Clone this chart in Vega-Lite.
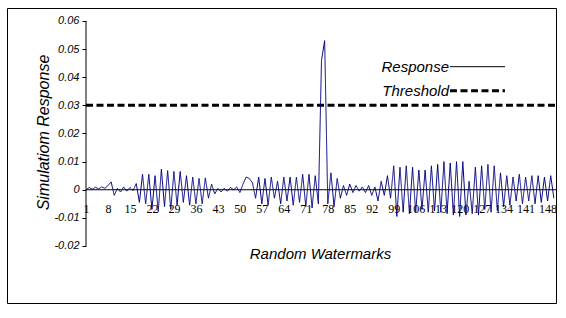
{
  "$schema": "https://vega.github.io/schema/vega-lite/v6.json",
  "width": 549,
  "height": 295,
  "autosize": {"type": "none"},
  "padding": {"left": 7, "top": 8, "right": 10, "bottom": 15},
  "background": "white",
  "config": {
    "view": {"stroke": "black", "strokeWidth": 1},
    "axis": {"grid": false},
    "axisX": {"offset": -113.25, "domain": false, "ticks": false, "tickSize": 0, "labelFont": "Liberation Serif", "labelFontSize": 12, "labelColor": "black", "labelPadding": 14, "labelOverlap": false, "labelFlush": false, "titleFont": "Liberation Sans", "titleFontStyle": "italic", "titleFontWeight": "normal", "titleFontSize": 15, "titleColor": "black", "titleX": 313, "titleY": 64, "titleBaseline": "middle", "titleAlign": "center"},
    "axisY": {"offset": -79, "domain": false, "ticks": true, "tickSize": 4, "tickColor": "black", "labelFont": "Liberation Sans", "labelFontStyle": "italic", "labelFontSize": 11, "labelColor": "black", "labelPadding": 3, "labelOverlap": false, "labelFlush": false, "titleFont": "Liberation Sans", "titleFontStyle": "italic", "titleFontWeight": "normal", "titleFontSize": 16, "titleColor": "black", "titleX": -43, "titleY": 124, "titleAngle": -90, "titleBaseline": "middle", "titleAlign": "center"},
    "legend": {"labelLimit": 300, "title": null, "orient": "none", "legendX": 443, "legendY": 51.2, "direction": "vertical", "symbolType": "M-5,0H5", "symbolSize": 121, "symbolStrokeColor": "black", "symbolOffset": 20, "labelAlign": "right", "labelOffset": -36, "labelFont": "Liberation Sans", "labelFontStyle": "italic", "labelFontSize": 15, "labelColor": "black", "padding": 0, "rowPadding": 8}
  },
  "datasets": {
    "threshold": [{"series": "Threshold", "value": 0.03}],
    "response": [
      {"i":1,"v":0.0000,"series":"Response"},{"i":2,"v":0.0008,"series":"Response"},{"i":3,"v":0.0002,"series":"Response"},{"i":4,"v":0.0009,"series":"Response"},{"i":5,"v":0.0003,"series":"Response"},
      {"i":6,"v":0.0010,"series":"Response"},{"i":7,"v":0.0005,"series":"Response"},{"i":8,"v":0.0015,"series":"Response"},{"i":9,"v":0.0028,"series":"Response"},{"i":10,"v":-0.0020,"series":"Response"},
      {"i":11,"v":0.0005,"series":"Response"},{"i":12,"v":-0.0008,"series":"Response"},{"i":13,"v":0.0010,"series":"Response"},{"i":14,"v":-0.0005,"series":"Response"},{"i":15,"v":0.0008,"series":"Response"},
      {"i":16,"v":-0.0003,"series":"Response"},{"i":17,"v":0.0022,"series":"Response"},{"i":18,"v":-0.0045,"series":"Response"},{"i":19,"v":0.0055,"series":"Response"},{"i":20,"v":-0.0050,"series":"Response"},
      {"i":21,"v":0.0055,"series":"Response"},{"i":22,"v":-0.0070,"series":"Response"},{"i":23,"v":0.0050,"series":"Response"},{"i":24,"v":-0.0078,"series":"Response"},{"i":25,"v":0.0073,"series":"Response"},
      {"i":26,"v":-0.0060,"series":"Response"},{"i":27,"v":0.0068,"series":"Response"},{"i":28,"v":-0.0070,"series":"Response"},{"i":29,"v":0.0065,"series":"Response"},{"i":30,"v":-0.0055,"series":"Response"},
      {"i":31,"v":0.0065,"series":"Response"},{"i":32,"v":-0.0045,"series":"Response"},{"i":33,"v":0.0050,"series":"Response"},{"i":34,"v":-0.0055,"series":"Response"},{"i":35,"v":0.0045,"series":"Response"},
      {"i":36,"v":-0.0050,"series":"Response"},{"i":37,"v":0.0040,"series":"Response"},{"i":38,"v":-0.0050,"series":"Response"},{"i":39,"v":0.0042,"series":"Response"},{"i":40,"v":-0.0030,"series":"Response"},
      {"i":41,"v":0.0020,"series":"Response"},{"i":42,"v":-0.0015,"series":"Response"},{"i":43,"v":0.0005,"series":"Response"},{"i":44,"v":-0.0008,"series":"Response"},{"i":45,"v":0.0005,"series":"Response"},
      {"i":46,"v":-0.0005,"series":"Response"},{"i":47,"v":0.0008,"series":"Response"},{"i":48,"v":0.0000,"series":"Response"},{"i":49,"v":0.0010,"series":"Response"},{"i":50,"v":-0.0010,"series":"Response"},
      {"i":51,"v":0.0020,"series":"Response"},{"i":52,"v":0.0045,"series":"Response"},{"i":53,"v":0.0040,"series":"Response"},{"i":54,"v":0.0025,"series":"Response"},{"i":55,"v":-0.0030,"series":"Response"},
      {"i":56,"v":0.0045,"series":"Response"},{"i":57,"v":-0.0050,"series":"Response"},{"i":58,"v":0.0040,"series":"Response"},{"i":59,"v":-0.0055,"series":"Response"},{"i":60,"v":0.0045,"series":"Response"},
      {"i":61,"v":-0.0030,"series":"Response"},{"i":62,"v":0.0030,"series":"Response"},{"i":63,"v":-0.0050,"series":"Response"},{"i":64,"v":0.0045,"series":"Response"},{"i":65,"v":-0.0040,"series":"Response"},
      {"i":66,"v":0.0045,"series":"Response"},{"i":67,"v":-0.0055,"series":"Response"},{"i":68,"v":0.0045,"series":"Response"},{"i":69,"v":-0.0045,"series":"Response"},{"i":70,"v":0.0055,"series":"Response"},
      {"i":71,"v":-0.0060,"series":"Response"},{"i":72,"v":0.0055,"series":"Response"},{"i":73,"v":-0.0065,"series":"Response"},{"i":74,"v":0.0050,"series":"Response"},{"i":75,"v":-0.0050,"series":"Response"},
      {"i":76,"v":0.0460,"series":"Response"},{"i":77,"v":0.0530,"series":"Response"},{"i":78,"v":-0.0050,"series":"Response"},{"i":79,"v":0.0060,"series":"Response"},{"i":80,"v":-0.0060,"series":"Response"},
      {"i":81,"v":0.0040,"series":"Response"},{"i":82,"v":-0.0030,"series":"Response"},{"i":83,"v":0.0015,"series":"Response"},{"i":84,"v":-0.0020,"series":"Response"},{"i":85,"v":0.0020,"series":"Response"},
      {"i":86,"v":-0.0010,"series":"Response"},{"i":87,"v":0.0015,"series":"Response"},{"i":88,"v":-0.0005,"series":"Response"},{"i":89,"v":0.0010,"series":"Response"},{"i":90,"v":-0.0010,"series":"Response"},
      {"i":91,"v":0.0015,"series":"Response"},{"i":92,"v":-0.0020,"series":"Response"},{"i":93,"v":0.0010,"series":"Response"},{"i":94,"v":-0.0040,"series":"Response"},{"i":95,"v":0.0030,"series":"Response"},
      {"i":96,"v":-0.0020,"series":"Response"},{"i":97,"v":0.0050,"series":"Response"},{"i":98,"v":-0.0030,"series":"Response"},{"i":99,"v":0.0085,"series":"Response"},{"i":100,"v":-0.0095,"series":"Response"},
      {"i":101,"v":0.0080,"series":"Response"},{"i":102,"v":-0.0080,"series":"Response"},{"i":103,"v":0.0085,"series":"Response"},{"i":104,"v":-0.0085,"series":"Response"},{"i":105,"v":0.0080,"series":"Response"},
      {"i":106,"v":-0.0080,"series":"Response"},{"i":107,"v":0.0070,"series":"Response"},{"i":108,"v":-0.0070,"series":"Response"},{"i":109,"v":0.0070,"series":"Response"},{"i":110,"v":-0.0080,"series":"Response"},
      {"i":111,"v":0.0085,"series":"Response"},{"i":112,"v":-0.0075,"series":"Response"},{"i":113,"v":0.0090,"series":"Response"},{"i":114,"v":-0.0080,"series":"Response"},{"i":115,"v":0.0100,"series":"Response"},
      {"i":116,"v":-0.0085,"series":"Response"},{"i":117,"v":0.0095,"series":"Response"},{"i":118,"v":-0.0090,"series":"Response"},{"i":119,"v":0.0100,"series":"Response"},{"i":120,"v":-0.0095,"series":"Response"},
      {"i":121,"v":0.0100,"series":"Response"},{"i":122,"v":-0.0090,"series":"Response"},{"i":123,"v":0.0030,"series":"Response"},{"i":124,"v":-0.0085,"series":"Response"},{"i":125,"v":0.0080,"series":"Response"},
      {"i":126,"v":-0.0090,"series":"Response"},{"i":127,"v":0.0085,"series":"Response"},{"i":128,"v":-0.0070,"series":"Response"},{"i":129,"v":0.0090,"series":"Response"},{"i":130,"v":-0.0080,"series":"Response"},
      {"i":131,"v":0.0085,"series":"Response"},{"i":132,"v":-0.0075,"series":"Response"},{"i":133,"v":0.0060,"series":"Response"},{"i":134,"v":-0.0060,"series":"Response"},{"i":135,"v":0.0050,"series":"Response"},
      {"i":136,"v":-0.0055,"series":"Response"},{"i":137,"v":0.0045,"series":"Response"},{"i":138,"v":-0.0040,"series":"Response"},{"i":139,"v":0.0055,"series":"Response"},{"i":140,"v":-0.0050,"series":"Response"},
      {"i":141,"v":0.0045,"series":"Response"},{"i":142,"v":-0.0040,"series":"Response"},{"i":143,"v":0.0050,"series":"Response"},{"i":144,"v":-0.0050,"series":"Response"},{"i":145,"v":0.0050,"series":"Response"},
      {"i":146,"v":-0.0045,"series":"Response"},{"i":147,"v":0.0045,"series":"Response"},{"i":148,"v":-0.0040,"series":"Response"},{"i":149,"v":0.0050,"series":"Response"},{"i":150,"v":-0.0030,"series":"Response"}
    ]
  },
  "layer": [
    {
      "data": {"name": "threshold"},
      "mark": {"type": "rule", "color": "black"},
      "encoding": {
        "y": {"field": "value", "type": "quantitative", "scale": {"domain": [-0.040267, 0.064622], "nice": false, "zero": false},
          "axis": {"title": "Simulatiom Response", "values": [-0.02, -0.01, 0, 0.01, 0.02, 0.03, 0.04, 0.05, 0.06], "labelExpr": "datum.value == 0 ? '0' : replace(format(datum.value, '.2f'), '\u2212', '-')"}},
        "x": {"datum": 1, "type": "quantitative", "scale": {"domain": [-24.16, 150.68], "nice": false, "zero": false},
          "axis": {"title": "Random Watermarks", "values": [1, 8, 15, 22, 29, 36, 43, 50, 57, 64, 71, 78, 85, 92, 99, 106, 113, 120, 127, 134, 141, 148]}},
        "x2": {"datum": 150.68},
        "strokeDash": {"field": "series", "type": "nominal", "scale": {"domain": ["Response", "Threshold"], "range": [[1, 0], [7, 3.5]]}},
        "strokeWidth": {"field": "series", "type": "nominal", "scale": {"domain": ["Response", "Threshold"], "range": [1, 3]}}
      }
    },
    {
      "data": {"name": "response"},
      "mark": {"type": "line", "color": "#000080", "interpolate": "linear"},
      "encoding": {
        "x": {"field": "i", "type": "quantitative", "scale": {"domain": [-24.16, 150.68], "nice": false, "zero": false},
          "axis": {"title": "Random Watermarks", "values": [1, 8, 15, 22, 29, 36, 43, 50, 57, 64, 71, 78, 85, 92, 99, 106, 113, 120, 127, 134, 141, 148]}},
        "y": {"field": "v", "type": "quantitative", "scale": {"domain": [-0.040267, 0.064622], "nice": false, "zero": false},
          "axis": {"title": "Simulatiom Response", "values": [-0.02, -0.01, 0, 0.01, 0.02, 0.03, 0.04, 0.05, 0.06], "labelExpr": "datum.value == 0 ? '0' : replace(format(datum.value, '.2f'), '\u2212', '-')"}},
        "strokeDash": {"field": "series", "type": "nominal", "scale": {"domain": ["Response", "Threshold"], "range": [[1, 0], [7, 3.5]]}},
        "strokeWidth": {"field": "series", "type": "nominal", "scale": {"domain": ["Response", "Threshold"], "range": [1, 3]}}
      }
    },
    {
      "data": {"name": "threshold"},
      "mark": {"type": "rule", "color": "black", "strokeWidth": 1},
      "encoding": {
        "y": {"datum": 0, "type": "quantitative",
          "axis": {"title": "Simulatiom Response", "values": [-0.02, -0.01, 0, 0.01, 0.02, 0.03, 0.04, 0.05, 0.06], "labelExpr": "datum.value == 0 ? '0' : replace(format(datum.value, '.2f'), '\u2212', '-')"}},
        "x": {"datum": 1, "type": "quantitative",
          "axis": {"title": "Random Watermarks", "values": [1, 8, 15, 22, 29, 36, 43, 50, 57, 64, 71, 78, 85, 92, 99, 106, 113, 120, 127, 134, 141, 148]}},
        "x2": {"datum": 150.68}
      }
    },
    {
      "data": {"name": "threshold"},
      "mark": {"type": "rule", "color": "black", "strokeWidth": 1},
      "encoding": {
        "x": {"datum": 1, "type": "quantitative",
          "axis": {"title": "Random Watermarks", "values": [1, 8, 15, 22, 29, 36, 43, 50, 57, 64, 71, 78, 85, 92, 99, 106, 113, 120, 127, 134, 141, 148]}},
        "y": {"datum": -0.02, "type": "quantitative",
          "axis": {"title": "Simulatiom Response", "values": [-0.02, -0.01, 0, 0.01, 0.02, 0.03, 0.04, 0.05, 0.06], "labelExpr": "datum.value == 0 ? '0' : replace(format(datum.value, '.2f'), '\u2212', '-')"}},
        "y2": {"datum": 0.06}
      }
    }
  ]
}
